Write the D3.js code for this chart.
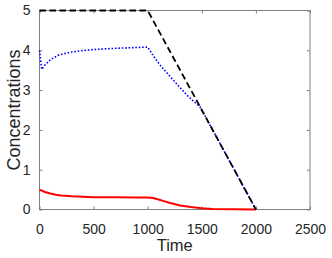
<!DOCTYPE html>
<html>
<head>
<meta charset="utf-8">
<script src="https://cdn.jsdelivr.net/npm/d3@7"></script>
<style>
  body { margin: 0; background: #fff; }
  svg { display: block; font-family: "Liberation Sans", Arial, sans-serif; }
</style>
</head>
<body>
<div id="chart"></div>
<script>
// data
let blackT = [0, 1000, 2000];
let blackY = [5, 5, 0];

let blueT = [0, 20, 50, 100, 175, 265, 390, 500, 700, 900, 1000, 1060, 1114, 1175, 1237, 1300, 1360, 1420, 1483, 1550, 1600, 1700, 1800, 1900, 2000];
let blueY = [4.0, 3.52, 3.63, 3.76, 3.88, 3.94, 3.99, 4.02, 4.05, 4.07, 4.08, 3.83, 3.63, 3.44, 3.25, 3.06, 2.88, 2.73, 2.58, 2.25, 2.0, 1.5, 1.0, 0.5, 0.0];

let redT = [0, 50, 100, 150, 200, 300, 400, 500, 700, 900, 1000, 1050, 1100, 1150, 1200, 1300, 1400, 1500, 1600, 1800, 2000];
let redY = [0.5, 0.44, 0.4, 0.37, 0.35, 0.33, 0.32, 0.31, 0.305, 0.3, 0.3, 0.29, 0.25, 0.21, 0.17, 0.1, 0.06, 0.03, 0.015, 0.005, 0];

let xTicks = [0, 500, 1000, 1500, 2000, 2500];
let yTicks = [0, 1, 2, 3, 4, 5];

let width = 332, height = 258;
let mLeft = 39.5, mRight = 310, mTop = 10.5, mBottom = 209.5;

let svg = d3.select('#chart')
    .append('svg')
    .attr('width', width)
    .attr('height', height);

let x = d3.scaleLinear().domain([0, 2500]).range([mLeft, mRight]);
let y = d3.scaleLinear().domain([0, 5]).range([mBottom, mTop]);

let axisColor = '#808080', textColor = '#262626';

// box
svg.append('rect')
    .attr('x', mLeft).attr('y', mTop)
    .attr('width', mRight - mLeft).attr('height', mBottom - mTop)
    .attr('fill', 'none').attr('stroke', axisColor).attr('stroke-width', 1);

// inward ticks on all four sides
let styleAxis = (g) => {
    g.select('.domain').remove();
    g.selectAll('.tick line').attr('stroke', axisColor);
    g.selectAll('.tick text').attr('fill', textColor).style('font-size', '14px');
};

svg.append('g')
    .attr('transform', 'translate(0,' + mBottom + ')')
    .call(d3.axisBottom(x).tickValues(xTicks).tickSize(-3).tickPadding(15).tickFormat(d3.format('d')))
    .call(styleAxis);
svg.append('g')
    .attr('transform', 'translate(0,' + mTop + ')')
    .call(d3.axisTop(x).tickValues(xTicks).tickSize(-3).tickFormat(''))
    .call(styleAxis);
svg.append('g')
    .attr('transform', 'translate(' + mLeft + ',0)')
    .call(d3.axisLeft(y).tickValues(yTicks).tickSize(-3).tickPadding(9).tickFormat(d3.format('d')))
    .call(styleAxis);
svg.append('g')
    .attr('transform', 'translate(' + mRight + ',0)')
    .call(d3.axisRight(y).tickValues(yTicks).tickSize(-3).tickFormat(''))
    .call(styleAxis);

// series
let line = d3.line()
    .x((d) => x(d[0]))
    .y((d) => y(d[1]));

let series = [
    {t: redT, v: redY, color: '#ff0000', dash: null, w: 2},
    {t: blueT, v: blueY, color: '#0000ff', dash: '1.6,1.8', w: 1.6},
    {t: blackT, v: blackY, color: '#000000', dash: '6.5,3.5', w: 1.8}
];

series.forEach((s) => {
    svg.append('path')
        .datum(s.t.map((t, i) => [t, s.v[i]]))
        .attr('d', line)
        .attr('fill', 'none')
        .attr('stroke', s.color)
        .attr('stroke-width', s.w)
        .attr('stroke-dasharray', s.dash);
});

// axis labels
svg.append('text')
    .attr('x', (mLeft + mRight) / 2)
    .attr('y', 251)
    .attr('text-anchor', 'middle')
    .attr('fill', textColor)
    .style('font-size', '16.5px')
    .text('Time');

svg.append('text')
    .attr('transform', 'translate(19.5,' + (mTop + mBottom) / 2 + ') rotate(-90)')
    .attr('text-anchor', 'middle')
    .attr('fill', textColor)
    .style('font-size', '18px')
    .text('Concentrations');
</script>
</body>
</html>
